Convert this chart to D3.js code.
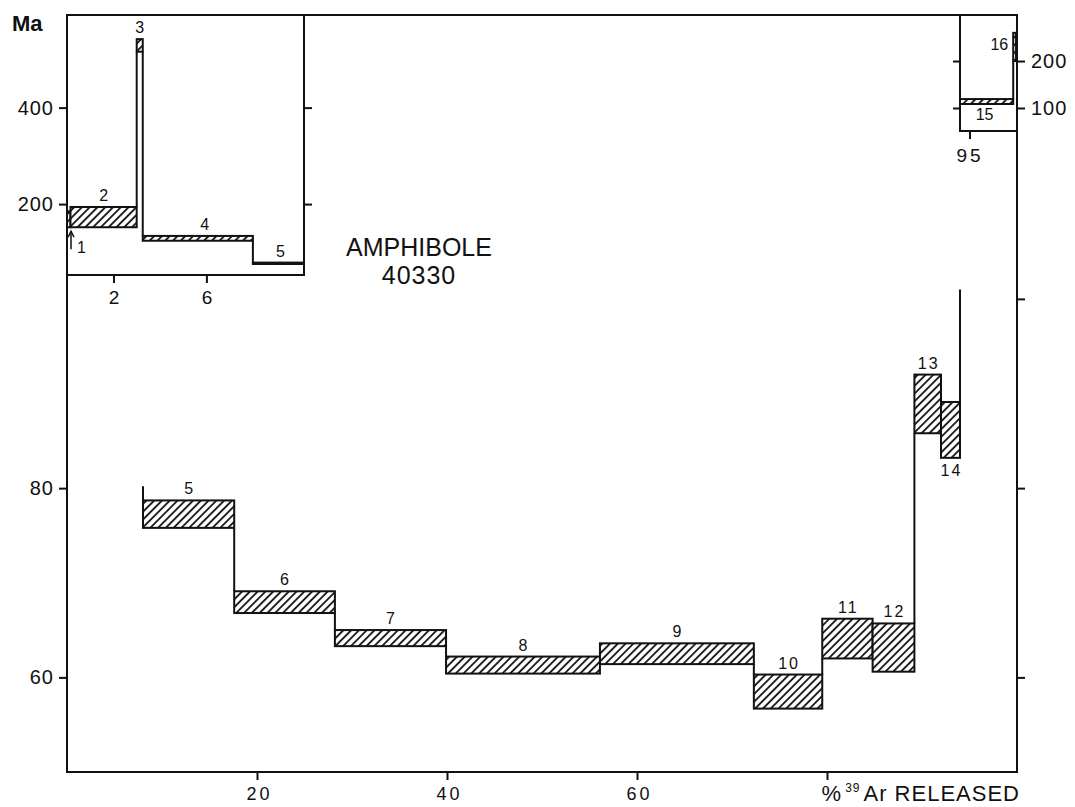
<!DOCTYPE html>
<html><head><meta charset="utf-8">
<script src="https://cdn.jsdelivr.net/npm/d3@7"></script>
<style>
body{margin:0;background:#fff}
text{font-family:"Liberation Sans",Arial,Helvetica,sans-serif;fill:#111}
</style>
</head><body>
<svg id="c" width="1075" height="807"></svg>
<script>
// ---------- data ----------
const steps    = [1, 2, 3, 4, 5, 6, 7, 8, 9, 10, 11, 12, 13, 14, 15, 16];
const pctStart = [0, 0.15, 3.0, 3.26, 8.0, 17.6, 28.2, 39.9, 56.1, 72.3, 79.5, 84.8, 89.2, 92.0, 94.0, 99.6];
const pctEnd   = [0.15, 3.0, 3.26, 8.0, 17.6, 28.2, 39.9, 56.1, 72.3, 79.5, 84.8, 89.2, 92.0, 94.0, 99.6, 99.9];
const ageLow   = [152, 152, 516, 124, 75.8, 66.8, 63.3, 60.4, 61.4, 56.7, 62.0, 60.6, 85.8, 83.2, 108.5, 200];
const ageHigh  = [185, 194, 542, 134, 78.7, 69.1, 65.0, 62.2, 63.6, 60.3, 66.2, 65.7, 92.0, 89.1, 119, 260];

const mainLeftTicks  = [60, 80];
const mainRightTicks = [60, 80, 100];
const mainXTicks     = [20, 40, 60, 80];
const mainXLabels    = ["20", "40", "60", ""];
const insetLYTicks   = [200, 400];
const insetLXTicks   = [2, 6];
const insetRYTicks   = [100, 200];
const insetRXTicks   = [95];
// connectors that leave the main panel are cut at these ages (after step n)
const mainBreakAfter = [4, 14];
const mainBreakAge   = [80.2, 101];

// ---------- setup ----------
const svg = d3.select("#c");
const defs = svg.append("defs");
const pat = defs.append("pattern").attr("id","hatch").attr("width",5.5).attr("height",5.5)
  .attr("patternUnits","userSpaceOnUse").attr("patternTransform","rotate(45)");
pat.append("rect").attr("width",5.5).attr("height",5.5).attr("fill","#fff");
pat.append("line").attr("x1",1).attr("y1",0).attr("x2",1).attr("y2",5.5)
  .attr("stroke","#111").attr("stroke-width",1.8);

const x  = d3.scaleLinear([0,100],[67,1017]);
const y  = d3.scaleLinear([50,130],[772,15]);
const xi = d3.scaleLinear([0,10.2],[67,304]);
const yi = d3.scaleLinear([53,592],[275,15]);
const xr = d3.scaleLinear([94,100],[x(94),x(100)]);
const yr = d3.scaleLinear([51,298],[131,15]);

const data = steps.map((s,i)=>({s, i, x0:pctStart[i], x1:pctEnd[i], lo:ageLow[i], hi:ageHigh[i]}));

function connectors(){
  const out=[];
  for(let i=0;i<data.length-1;i++){
    const a=data[i], b=data[i+1];
    if(a.hi < b.lo) out.push({after:a.s, xv:a.x1, from:a.hi, to:b.lo});
    else if(a.lo > b.hi) out.push({after:a.s, xv:a.x1, from:a.lo, to:b.hi});
  }
  return out;
}
const conns = connectors();

function drawPanel(g, xs, ys, subset, connList){
  g.selectAll("line.conn").data(connList).join("line").attr("class","conn")
    .attr("x1",d=>xs(d.xv)).attr("x2",d=>xs(d.xv))
    .attr("y1",d=>ys(d.from)).attr("y2",d=>ys(d.to))
    .attr("stroke","#111").attr("stroke-width",2);
  g.selectAll("rect.step").data(subset).join("rect").attr("class","step")
    .attr("x",d=>xs(d.x0)).attr("width",d=>xs(d.x1)-xs(d.x0))
    .attr("y",d=>ys(d.hi)).attr("height",d=>ys(d.lo)-ys(d.hi))
    .attr("fill","url(#hatch)").attr("stroke","#111").attr("stroke-width",2);
}

function tickMarks(g, axis, fs, ls){
  g.call(axis);
  g.attr("font-size",fs||10).attr("font-family",null).attr("letter-spacing",ls||0);
  g.select(".domain").remove();
  g.selectAll(".tick line").attr("stroke","#111").attr("stroke-width",2);
  g.selectAll(".tick text").attr("fill","#111");
  return g;
}

// ---------- main panel ----------
const mainG = svg.append("g");
const mainData = data.filter(d=>d.hi < 101);
const mainConns = conns.map(c=>{
  const k = mainBreakAfter.indexOf(c.after);
  if(k>=0){ return {...c, from: Math.min(c.from,c.to), to: mainBreakAge[k]}; }
  return c;
}).filter(c=>c.xv>=8 && c.xv<=94.01);
drawPanel(mainG, x, y, mainData, mainConns);

mainG.selectAll("text.lab").data(mainData).join("text").attr("class","lab")
  .attr("x",d=>x((d.x0+d.x1)/2)+1)
  .attr("y",d=>d.s===14 ? y(d.lo)+18 : y(d.hi)-6)
  .attr("text-anchor","middle").attr("font-size",16).attr("letter-spacing",2)
  .text(d=>d.s);

// main axes
tickMarks(svg.append("g").attr("transform",`translate(${x(0)},0)`),
  d3.axisLeft(y).tickValues(mainLeftTicks).tickSize(8).tickPadding(5).tickFormat(d3.format("d")), 20, 1);
tickMarks(svg.append("g").attr("transform",`translate(${x(100)},0)`),
  d3.axisRight(y).tickValues(mainRightTicks).tickSize(8).tickFormat(""));
const xg = tickMarks(svg.append("g").attr("transform",`translate(0,${y(50)})`),
  d3.axisBottom(x).tickValues(mainXTicks).tickSize(8).tickPadding(7).tickFormat((d,i)=>mainXLabels[i]), 18, 3);
xg.selectAll(".tick text").attr("dx",2);

svg.append("rect").attr("x",x(0)).attr("y",y(130)).attr("width",x(100)-x(0)).attr("height",y(50)-y(130))
  .attr("fill","none").attr("stroke","#111").attr("stroke-width",2);

// axis title
const t = svg.append("text").attr("x",x(100)+3).attr("y",801).attr("text-anchor","end")
  .attr("font-size",22).attr("letter-spacing",1);
t.append("tspan").text("%");
t.append("tspan").attr("font-size",12).attr("dy",-9).attr("dx",3).text("39");
t.append("tspan").attr("dy",9).attr("dx",3).text("Ar RELEASED");

// ---------- left inset ----------
defs.append("clipPath").attr("id","clipL").append("rect")
  .attr("x",xi(0)).attr("y",yi(592)).attr("width",xi(10.2)-xi(0)).attr("height",yi(53)-yi(592));
svg.append("rect").attr("x",xi(0)).attr("y",yi(592)).attr("width",xi(10.2)-xi(0)).attr("height",yi(53)-yi(592))
  .attr("fill","#fff");
const insL = svg.append("g").attr("clip-path","url(#clipL)");
const lData = data.filter(d=>d.s<=5);
const lConns = conns.filter(c=>c.after<5);
drawPanel(insL, xi, yi, lData, lConns);
svg.append("rect").attr("x",xi(0)).attr("y",yi(592)).attr("width",xi(10.2)-xi(0)).attr("height",yi(53)-yi(592))
  .attr("fill","none").attr("stroke","#111").attr("stroke-width",2);

svg.selectAll("text.labL").data(lData.filter(d=>d.s>1)).join("text").attr("class","labL")
  .attr("x",d=>d.s===5 ? (xi(d.x0)+xi(10.2))/2+2 : (d.s===4 ? xi((d.x0+d.x1)/2)+7 : xi((d.x0+d.x1)/2)))
  .attr("y",d=>yi(d.hi)-6)
  .attr("text-anchor","middle").attr("font-size",16).text(d=>d.s);
// step 1 pointer
const s1 = data[0];
svg.append("line").attr("x1",xi(s1.x0)+4).attr("x2",xi(s1.x0)+4)
  .attr("y1",yi(s1.lo)+22).attr("y2",yi(s1.lo)+5).attr("stroke","#111").attr("stroke-width",1.5);
svg.append("path").attr("d",`M${xi(s1.x0)+1},${yi(s1.lo)+10} L${xi(s1.x0)+4},${yi(s1.lo)+4} L${xi(s1.x0)+7},${yi(s1.lo)+10}`)
  .attr("fill","none").attr("stroke","#111").attr("stroke-width",1.5);
svg.append("text").attr("x",xi(s1.x0)+10).attr("y",yi(s1.lo)+26).attr("font-size",16).text(s1.s);

tickMarks(svg.append("g").attr("transform",`translate(${xi(0)},0)`),
  d3.axisLeft(yi).tickValues(insetLYTicks).tickSize(8).tickPadding(5).tickFormat(d3.format("d")), 20, 1);
tickMarks(svg.append("g").attr("transform",`translate(${xi(10.2)},0)`),
  d3.axisRight(yi).tickValues(insetLYTicks).tickSize(8).tickFormat(""));
tickMarks(svg.append("g").attr("transform",`translate(0,${yi(53)})`),
  d3.axisBottom(xi).tickValues(insetLXTicks).tickSize(8).tickPadding(8).tickFormat(d3.format("d")), 19, 0);

// ---------- right inset ----------
defs.append("clipPath").attr("id","clipR").append("rect")
  .attr("x",xr(94)).attr("y",yr(298)).attr("width",xr(100)-xr(94)).attr("height",yr(51)-yr(298));
svg.append("rect").attr("x",xr(94)).attr("y",yr(298)).attr("width",xr(100)-xr(94)).attr("height",yr(51)-yr(298))
  .attr("fill","#fff");
const insR = svg.append("g").attr("clip-path","url(#clipR)");
const rData = data.filter(d=>d.s>=15);
const rConns = conns.filter(c=>c.after>=15);
drawPanel(insR, xr, yr, rData, rConns);
svg.append("rect").attr("x",xr(94)).attr("y",yr(298)).attr("width",xr(100)-xr(94)).attr("height",yr(51)-yr(298))
  .attr("fill","none").attr("stroke","#111").attr("stroke-width",2);
svg.append("text").attr("x",xr((rData[0].x0+rData[0].x1)/2)-2).attr("y",yr(rData[0].lo)+16)
  .attr("text-anchor","middle").attr("font-size",16).text(rData[0].s);
svg.append("text").attr("x",xr(rData[1].x0)-5).attr("y",yr(rData[1].hi)+17)
  .attr("text-anchor","end").attr("font-size",16).text(rData[1].s);

tickMarks(svg.append("g").attr("transform",`translate(${xr(94)},0)`),
  d3.axisLeft(yr).tickValues(insetRYTicks).tickSize(7).tickFormat(""));
tickMarks(svg.append("g").attr("transform",`translate(${xr(100)},0)`),
  d3.axisRight(yr).tickValues(insetRYTicks).tickSize(8).tickPadding(6).tickFormat(d3.format("d")), 20, 1);
tickMarks(svg.append("g").attr("transform",`translate(0,${yr(51)})`),
  d3.axisBottom(xr).tickValues(insetRXTicks).tickSize(8).tickPadding(10).tickFormat(d3.format("d")), 19, 3);

// ---------- titles ----------
svg.append("text").attr("x",12).attr("y",31).attr("font-size",22).attr("font-weight","bold").text("Ma");
svg.append("text").attr("x",419).attr("y",256).attr("text-anchor","middle").attr("font-size",25).text("AMPHIBOLE");
svg.append("text").attr("x",419).attr("y",284).attr("text-anchor","middle").attr("font-size",25).attr("letter-spacing",1).text("40330");
</script>
</body></html>
